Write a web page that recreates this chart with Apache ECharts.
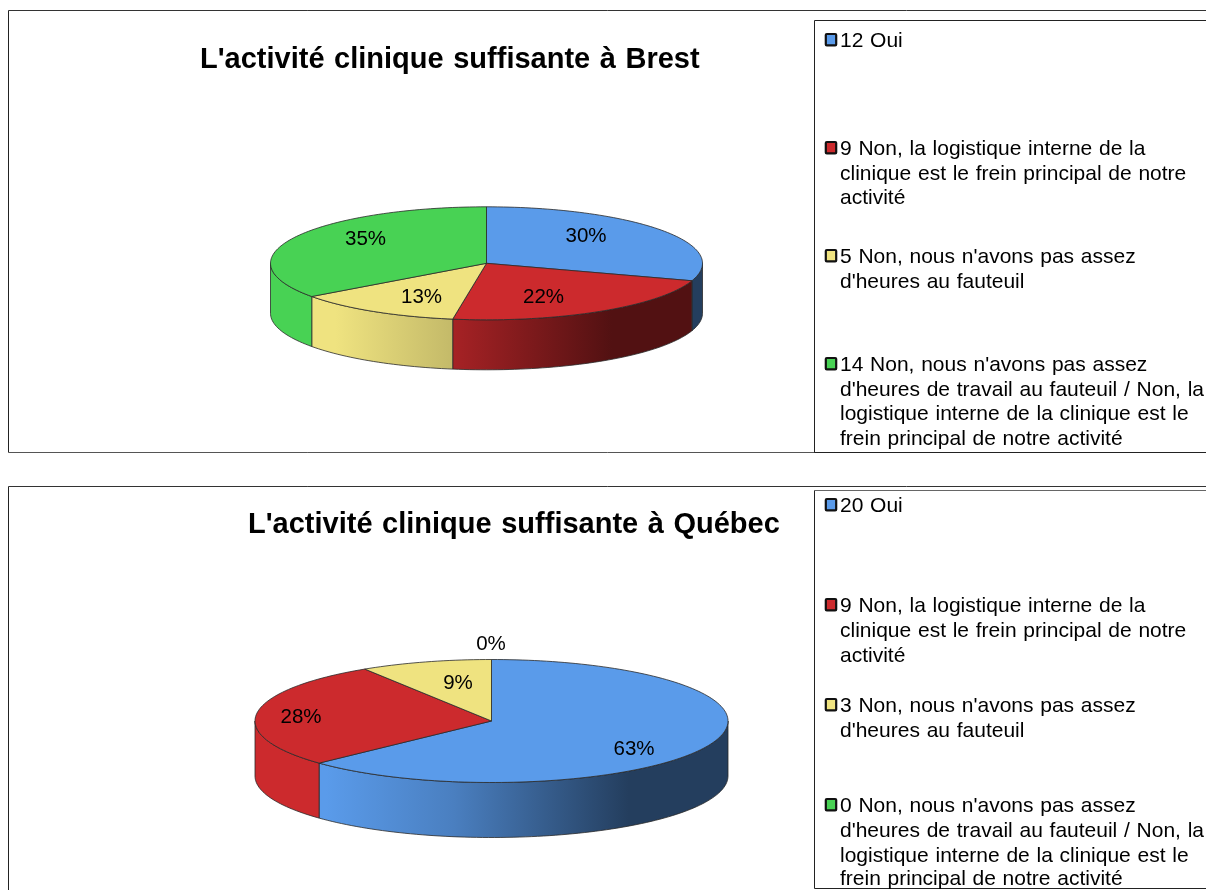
<!DOCTYPE html>
<html><head><meta charset="utf-8">
<style>html,body{margin:0;padding:0;background:#fff}#c{width:1206px;height:890px}</style>
<script src="https://cdn.jsdelivr.net/npm/echarts@6/dist/echarts.min.js"></script>
</head><body><div id="c"></div>
<script>
const brestShares = [30, 22.5, 12.5, 35];
const brestLabels = ['30%', '22%', '13%', '35%'];
const quebecShares = [63, 28, 9, 0];
const quebecLabels = ['63%', '28%', '9%', '0%'];
const brestLegend = [
  ['12 Oui'],
  ['9 Non, la logistique interne de la', 'clinique est le frein principal de notre', 'activité'],
  ["5 Non, nous n'avons pas assez", "d'heures au fauteuil"],
  ["14 Non, nous n'avons pas assez", "d'heures de travail au fauteuil / Non, la", 'logistique interne de la clinique est le', 'frein principal de notre activité']
];
const quebecLegend = [
  ['20 Oui'],
  ['9 Non, la logistique interne de la', 'clinique est le frein principal de notre', 'activité'],
  ["3 Non, nous n'avons pas assez", "d'heures au fauteuil"],
  ["0 Non, nous n'avons pas assez", "d'heures de travail au fauteuil / Non, la", 'logistique interne de la clinique est le', 'frein principal de notre activité']
];
const sliceColors = ['#5a9bea', '#cc2a2d', '#efe380', '#48d254'];

const FONT = '"Liberation Sans", Arial, sans-serif';
const measureCtx = document.createElement('canvas').getContext('2d');
function words(text, x, y, font, extraGap) {
  measureCtx.font = font;
  const space = measureCtx.measureText(' ').width + extraGap;
  const out = [];
  let cur = x;
  text.split(' ').forEach(w => {
    out.push({ type: 'text', silent: true,
      style: { x: cur, y, text: w, fill: '#000', font, verticalAlign: 'middle' } });
    cur += measureCtx.measureText(w).width + space;
  });
  return out;
}
function darken(hex, f) {
  const n = parseInt(hex.slice(1), 16);
  return 'rgb(' + [(n >> 16) & 255, (n >> 8) & 255, n & 255].map(v => Math.round(v * f)).join(',') + ')';
}
function pieRenderer(shares, labels, g) {
  const total = shares.reduce((a, b) => a + b, 0);
  const pt = (deg, dy) => {
    const r = deg * Math.PI / 180;
    return [g.cx + g.rx * Math.sin(r), g.cy - g.ry * Math.cos(r) + (dy || 0)];
  };
  const arc = (a, b, dy) => {
    const out = [], n = Math.max(2, Math.ceil((b - a) / 1.5));
    for (let i = 0; i <= n; i++) out.push(pt(a + (b - a) * i / n, dy));
    return out;
  };
  return function (params, api) {
    const i = params.dataIndex;
    if (i > 0) return { type: 'group', children: [] };
    const children = [];
    const stroke = { stroke: '#2a2a2a', lineWidth: 0.8 };
    let acc = 0;
    const spans = shares.map((_, k) => {
      const v = api.value(0, k);
      const s = [acc / total * 360, (acc + v) / total * 360];
      acc += v;
      return s;
    });
    spans.forEach((s, k) => {
      const a = Math.max(s[0], 90), b = Math.min(s[1], 270);
      if (b <= a) return;
      const c = sliceColors[k];
      const fill = new echarts.graphic.LinearGradient(g.cx - g.rx, 0, g.cx + g.rx, 0, [
        { offset: 0, color: c }, { offset: 0.15, color: c },
        { offset: 0.42, color: darken(c, 0.82) },
        { offset: 0.79, color: darken(c, 0.4) }, { offset: 1, color: darken(c, 0.4) }
      ], true);
      const pts = arc(a, b, 0).concat(arc(a, b, g.depth).reverse());
      children.push({ type: 'polygon', shape: { points: pts }, style: { fill, ...stroke } });
    });
    spans.forEach((s, k) => {
      if (s[1] <= s[0]) return;
      const pts = [[g.cx, g.cy]].concat(arc(s[0], s[1], 0));
      children.push({ type: 'polygon', shape: { points: pts }, style: { fill: sliceColors[k], ...stroke } });
    });
    labels.forEach((t, k) => {
      children.push({ type: 'text', style: { x: g.labels[k][0], y: g.labels[k][1], text: t, fill: '#000',
        font: '20.5px ' + FONT, align: 'center', verticalAlign: 'middle' } });
    });
    return { type: 'group', children };
  };
}

const brestGeo = { cx: 486.5, cy: 263.3, rx: 216, ry: 56.5, depth: 50,
  labels: [[586, 236], [543.5, 297], [421.5, 297], [365.5, 239]] };
const quebecGeo = { cx: 491.5, cy: 721, rx: 236.5, ry: 61.5, depth: 55,
  labels: [[634, 749], [301, 717], [458, 683.5], [491, 644]] };

function frame(x, top, bottom, legTop, legBottom, legTopColor) {
  const line = (x1, y1, x2, y2, c) => ({ type: 'line', silent: true,
    shape: { x1, y1, x2, y2 }, style: { stroke: c || '#222', lineWidth: 1 } });
  return [
    line(x, top, 1206, top, '#333'), line(x, top, x, bottom), line(x, bottom, 1206, bottom, '#555'),
    line(814.5, legTop, 1206, legTop, legTopColor), line(814.5, legTop, 814.5, legBottom), line(814.5, legBottom, 1206, legBottom)
  ];
}
function legendBlock(entries, ys) {
  let out = [];
  entries.forEach((lines, k) => {
    out.push({ type: 'rect', silent: true, shape: { x: 825.8, y: ys[k][0] - 7, width: 10.4, height: 11.4, r: 1 },
      style: { fill: sliceColors[k], stroke: '#111', lineWidth: 2.2 } });
    lines.forEach((t, j) => { out = out.concat(words(t, 840, ys[k][j], '21px ' + FONT, 0.9)); });
  });
  return out;
}

const chart = echarts.init(document.getElementById('c'), null, { renderer: 'canvas' });
chart.setOption({
  animation: false,
  backgroundColor: '#fff',
  graphic: [].concat(
    frame(8.5, 10.5, 452.5, 20.5, 452.5),
    frame(8.5, 486.5, 892, 490.5, 888.5, '#666'),
    legendBlock(brestLegend, [[41], [149, 174, 198], [257, 282], [365, 390, 414, 439]]),
    legendBlock(quebecLegend, [[506], [606, 631, 656], [706, 731], [806, 831, 856, 879]]),
    words("L'activité clinique suffisante à Brest", 200, 60, 'bold 29px ' + FONT, 1.5),
    words("L'activité clinique suffisante à Québec", 248, 525, 'bold 29px ' + FONT, 1.5)
  ),
  series: [
    { type: 'custom', coordinateSystem: 'none', silent: true, data: brestShares.map(v => [v]),
      renderItem: pieRenderer(brestShares, brestLabels, brestGeo) },
    { type: 'custom', coordinateSystem: 'none', silent: true, data: quebecShares.map(v => [v]),
      renderItem: pieRenderer(quebecShares, quebecLabels, quebecGeo) }
  ]
});
</script></body></html>
